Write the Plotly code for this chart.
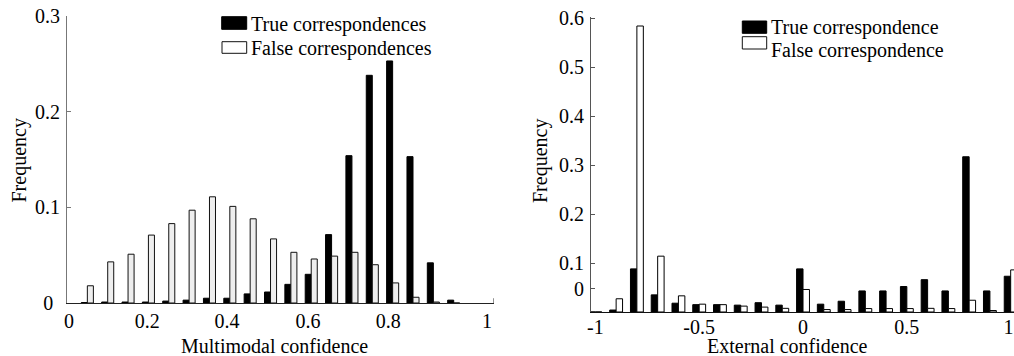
import plotly.graph_objects as go

# ---------------- data ----------------
# Left panel: multimodal confidence histogram (bin centres 0.05 .. 0.95)
left_bins = [0.05, 0.10, 0.15, 0.20, 0.25, 0.30, 0.35, 0.40, 0.45, 0.50,
             0.55, 0.60, 0.65, 0.70, 0.75, 0.80, 0.85, 0.90, 0.95]
left_true = [0.0005, 0.001, 0.001, 0.001, 0.002, 0.003, 0.005, 0.005, 0.0095, 0.0115,
             0.0195, 0.030, 0.0715, 0.154, 0.238, 0.253, 0.153, 0.042, 0.003]
left_false = [0.018, 0.043, 0.051, 0.071, 0.083, 0.097, 0.111, 0.101, 0.088, 0.067,
              0.053, 0.046, 0.049, 0.053, 0.040, 0.021, 0.006, 0.001, 0.0]
left_xtick_labels = ["0", "0.2", "0.4", "0.6", "0.8", "1"]
left_xtick_vals = [0.005, 0.197, 0.393, 0.592, 0.789, 1.032]
left_ytick_labels = ["0\u2006\u2006", "0.1", "0.2", "0.3"]
left_ytick_vals = [0.0, 0.1, 0.2, 0.3]

# Right panel: external confidence histogram (bin centres -1 .. 1)
right_bins = [-1.0, -0.9, -0.8, -0.7, -0.6, -0.5, -0.4, -0.3, -0.2, -0.1, 0.0,
              0.1, 0.2, 0.3, 0.4, 0.5, 0.6, 0.7, 0.8, 0.9, 1.0]
right_true = [0.0, 0.004, 0.088, 0.035, 0.018, 0.015, 0.015, 0.014, 0.019, 0.014, 0.088,
              0.016, 0.022, 0.043, 0.043, 0.052, 0.066, 0.043, 0.317, 0.043, 0.073]
right_false = [0.0, 0.027, 0.584, 0.114, 0.033, 0.016, 0.015, 0.012, 0.010, 0.0075, 0.046,
               0.005, 0.005, 0.007, 0.007, 0.007, 0.0075, 0.007, 0.024, 0.003, 0.086]
right_xtick_labels = ["-1", "-0.5", "0", "0.5", "1"]
right_xtick_vals = [-1.0, -0.5, 0.0, 0.5, 0.99]
right_ytick_labels = ["0", "0.1", "0.2", "0.3", "0.4", "0.5", "0.6"]
right_ytick_vals = [0.047, 0.1, 0.2, 0.3, 0.4, 0.5, 0.6]

FONT = "Liberation Serif, Times New Roman, serif"

fig = go.Figure()

# left panel bars
fig.add_trace(go.Bar(x=left_bins, y=left_true, width=0.0148, offset=-0.0148,
                     marker=dict(color="black", line=dict(color="black", width=1)),
                     xaxis="x", yaxis="y", showlegend=False, name="True correspondences"))
fig.add_trace(go.Bar(x=left_bins, y=left_false, width=0.0148, offset=0.0,
                     marker=dict(color="#eeeeee", line=dict(color="#111111", width=1)),
                     xaxis="x", yaxis="y", showlegend=False, name="False correspondences"))
# right panel bars
fig.add_trace(go.Bar(x=right_bins, y=right_true, width=0.031, offset=-0.031,
                     marker=dict(color="black", line=dict(color="black", width=1)),
                     xaxis="x2", yaxis="y2", showlegend=False, name="True correspondence"))
fig.add_trace(go.Bar(x=right_bins, y=right_false, width=0.031, offset=0.0,
                     marker=dict(color="white", line=dict(color="black", width=1)),
                     xaxis="x2", yaxis="y2", showlegend=False, name="False correspondence"))

W, H = 1014, 356
def px_x(p):
    return p / W
def px_y(p):
    return (H - p) / H

tickfont = dict(family=FONT, size=20, color="black")

fig.update_layout(
    width=W, height=H,
    margin=dict(l=0, r=0, t=0, b=0),
    paper_bgcolor="white", plot_bgcolor="white",
    barmode="overlay",
    font=dict(family=FONT, size=20, color="black"),
    xaxis=dict(domain=[px_x(67), px_x(494)], range=[0, 1.049], anchor="y",
               showline=True, linecolor="#222222", linewidth=1, ticks="",
               tickvals=left_xtick_vals, ticktext=left_xtick_labels, tickfont=tickfont,
               showgrid=False, zeroline=False, ticklabelstandoff=0, automargin=False),
    yaxis=dict(domain=[px_y(303), px_y(16)], range=[0, 0.3], anchor="x",
               showline=True, linecolor="#777777", linewidth=1, ticks="inside",
               ticklen=4, tickcolor="#777777",
               tickvals=left_ytick_vals, ticktext=left_ytick_labels, tickfont=tickfont,
               showgrid=False, zeroline=False, ticklabelstandoff=2, automargin=False),
    xaxis2=dict(domain=[px_x(591), 1.0], range=[-1.021, 1.016], anchor="y2",
                showline=True, linecolor="#111111", linewidth=1, ticks="",
                tickvals=right_xtick_vals, ticktext=right_xtick_labels, tickfont=tickfont,
                showgrid=False, zeroline=False, ticklabelstandoff=-3, automargin=False),
    yaxis2=dict(domain=[px_y(312), px_y(16.7)], range=[0, 0.603], anchor="x2",
                showline=True, linecolor="#555555", linewidth=1, ticks="inside",
                ticklen=4, tickcolor="#555555",
                tickvals=right_ytick_vals, ticktext=right_ytick_labels, tickfont=tickfont,
                showgrid=False, zeroline=False, ticklabelstandoff=2, automargin=False),
)

# small end tick on left x axis
fig.add_shape(type="line", xref="x", yref="y", x0=1.049, x1=1.049, y0=0, y1=0.005,
              line=dict(color="#222222", width=1))

# legends drawn as rectangles + text
shapes = [
    (221.7, 246.7, 16.7, 29.3, "black", "black"),
    (222.0, 246.7, 41.7, 53.3, "white", "#111111"),
    (742.3, 766.7, 21.0, 33.3, "black", "black"),
    (742.3, 766.7, 36.7, 49.0, "white", "#111111"),
]
for x0, x1, y0, y1, fc, lc in shapes:
    fig.add_shape(type="rect", xref="paper", yref="paper",
                  x0=px_x(x0), x1=px_x(x1), y0=px_y(y1), y1=px_y(y0),
                  fillcolor=fc, line=dict(color=lc, width=1))

legend_texts = [
    (249, 24, "True correspondences"),
    (249, 48, "False correspondences"),
    (769, 28, "True correspondence"),
    (769, 50, "False correspondence"),
]
for x, y, t in legend_texts:
    fig.add_annotation(xref="paper", yref="paper", x=px_x(x), y=px_y(y), text=t,
                       showarrow=False, xanchor="left", yanchor="middle",
                       font=dict(family=FONT, size=20, color="black"))

# axis titles
titles = [
    (274, 346, "Multimodal confidence", 0),
    (787, 346, "External confidence", 0),
    (18.5, 161, "Frequency", -90),
    (540, 161, "Frequency", -90),
]
for x, y, t, ang in titles:
    fig.add_annotation(xref="paper", yref="paper", x=px_x(x), y=px_y(y), text=t,
                       showarrow=False, xanchor="center", yanchor="middle", textangle=ang,
                       font=dict(family=FONT, size=20, color="black"))

fig.write_html("out.html", config={"displayModeBar": False},
               post_script="document.body.style.margin='0';document.body.style.overflow='hidden';")
